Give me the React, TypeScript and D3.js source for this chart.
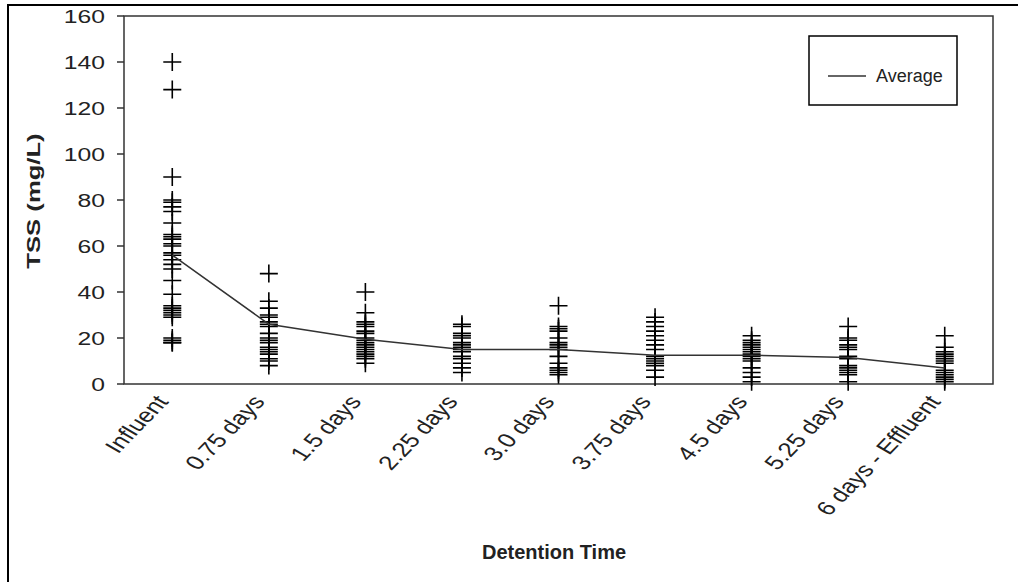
import React from "react";
import * as d3 from "d3";

// categories along the x axis
const categories = [
  "Influent",
  "0.75 days",
  "1.5 days",
  "2.25 days",
  "3.0 days",
  "3.75 days",
  "4.5 days",
  "5.25 days",
  "6 days - Effluent",
];

// average TSS per detention time (mg/L)
const averages = [56, 26, 19.5, 15, 15, 12.5, 12.5, 11.5, 7];

// individual samples (mg/L)
const influent = [140, 128, 90, 80, 79, 77, 75, 70, 65, 64, 63, 61, 60, 57, 56, 54, 52, 50, 45, 39, 34, 33, 32, 31, 30, 29, 20, 19, 18, 18];
const days075 = [48, 36, 33, 30, 29, 27, 26, 25, 22, 20, 19, 18, 16, 15, 14, 13, 11, 10, 8];
const days15 = [40, 31, 27, 26, 25, 23, 22, 20, 19, 18, 17, 16, 15, 14, 13, 12, 11, 9];
const days225 = [26, 25, 22, 21, 20, 18, 17, 16, 15, 14, 12, 11, 9, 7, 5];
const days30 = [34, 25, 24, 23, 20, 18, 17, 16, 15, 12, 9, 7, 6, 5, 4];
const days375 = [29, 27, 25, 23, 21, 19, 17, 15, 12, 11, 10, 9, 8, 6, 3];
const days45 = [21, 19, 18, 17, 16, 15, 14, 13, 12, 11, 10, 7, 5, 3, 1];
const days525 = [25, 20, 19, 17, 16, 15, 12, 11, 8, 7, 6, 5, 4, 1];
const days6 = [21, 16, 14, 13, 12, 11, 10, 9, 6, 5, 4, 3, 2, 1];

const samples = [influent, days075, days15, days225, days30, days375, days45, days525, days6];

const yTicks = [0, 20, 40, 60, 80, 100, 120, 140, 160];

const W = 1018, H = 582;
const margin = { left: 124, right: 993, top: 16, bottom: 384 };
const font = "'Liberation Sans', Arial, sans-serif";

export default function App() {
  const x = d3.scaleBand<string>().domain(categories).range([margin.left, margin.right]).padding(0);
  const y = d3.scaleLinear().domain([0, 160]).range([margin.bottom, margin.top]);
  const cx = (c: string) => (x(c) as number) + x.bandwidth() / 2;

  const line = d3.line<number>()
    .x((d, i) => cx(categories[i]))
    .y((d) => y(d));

  const cross = "M-9,0H9M0,-9V9";

  return (
    <div style={{ position: "absolute", left: 0, top: 0 }}>
      <svg width={W} height={H} style={{ display: "block", background: "#fff" }}>
        {/* outer frame */}
        <path d={`M8,${H}V5H${W}`} fill="none" stroke="#000" strokeWidth={2} />

        {/* plot frame */}
        <rect x={margin.left} y={margin.top} width={margin.right - margin.left} height={margin.bottom - margin.top}
          fill="none" stroke="#333" strokeWidth={1.5} />

        {/* y axis */}
        {yTicks.map((t) => (
          <g key={t}>
            <line x1={margin.left - 7} x2={margin.left} y1={y(t)} y2={y(t)} stroke="#333" strokeWidth={1.5} />
            <text transform={`translate(${margin.left - 19},${y(t)}) scale(1.3,1)`} textAnchor="end" dy="0.36em"
              fontFamily={font} fontSize={19} fill="#222">{t}</text>
          </g>
        ))}
        <text transform={`translate(40,${(margin.top + margin.bottom) / 2 + 1}) rotate(-90) scale(1.35,1)`} textAnchor="middle"
          fontFamily={font} fontSize={19} fontWeight="bold" fill="#222">TSS (mg/L)</text>

        {/* x labels */}
        {categories.map((c) => (
          <text key={c} transform={`translate(${cx(c) - 3},${margin.bottom + 18}) scale(1.3,1) rotate(-53)`}
            textAnchor="end" fontFamily={font} fontSize={20} fill="#222">{c}</text>
        ))}
        <text x={554} y={559} textAnchor="middle" fontFamily={font} fontSize={20} fontWeight="bold" fill="#222">
          Detention Time
        </text>

        {/* samples */}
        {samples.map((vals, i) =>
          vals.map((v, j) => (
            <path key={`${i}-${j}`} d={cross} transform={`translate(${cx(categories[i])},${y(v)})`}
              stroke="#000" strokeWidth={1.6} fill="none" />
          ))
        )}

        {/* average line */}
        <path d={line(averages) as string} fill="none" stroke="#333" strokeWidth={1.5} />

        {/* legend */}
        <rect x={809} y={36} width={148} height={69} fill="#fff" stroke="#000" strokeWidth={1.5} />
        <line x1={828} x2={866} y1={76} y2={76} stroke="#333" strokeWidth={1.5} />
        <text x={876} y={82} fontFamily={font} fontSize={18} fill="#222">Average</text>
      </svg>
    </div>
  );
}
